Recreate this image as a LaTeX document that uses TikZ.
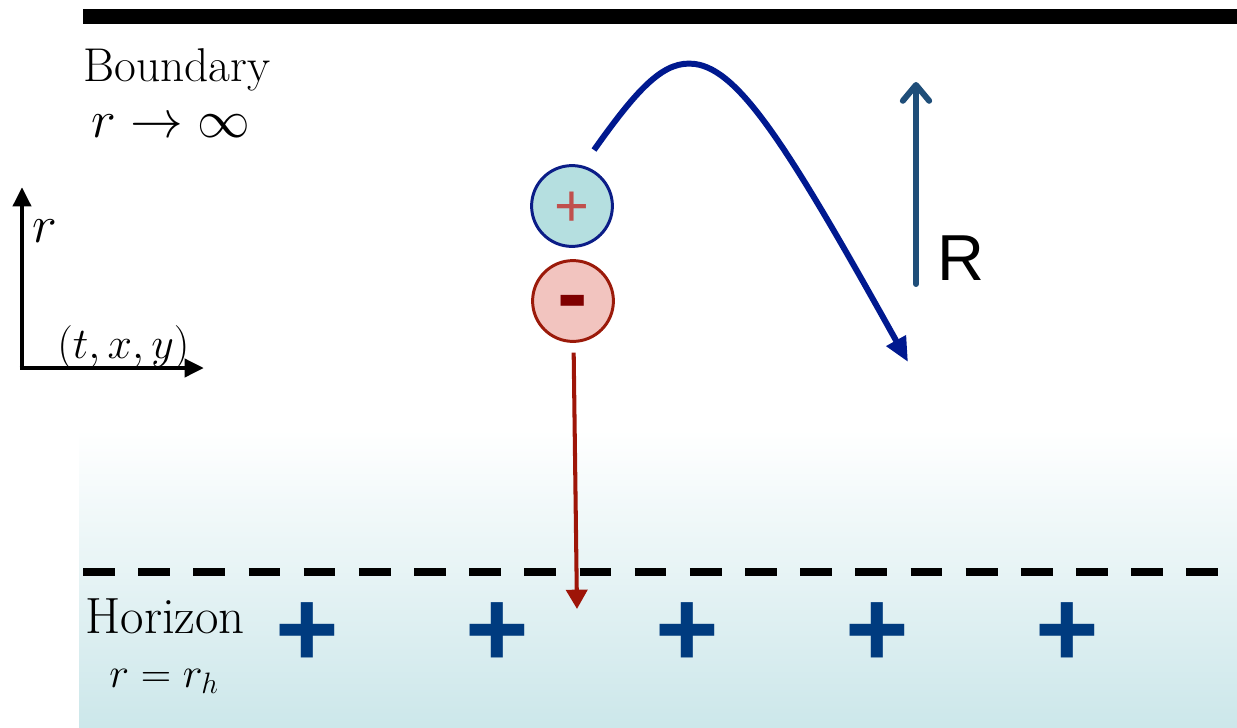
\RequirePackage{fix-cm}
\documentclass[tikz,border=0pt]{standalone}
\usepackage{amsmath}
\usepackage{amssymb}
\usepackage{fontspec}
\setsansfont{Liberation Sans}
\usetikzlibrary{arrows.meta, positioning}

\definecolor{plusfill}{HTML}{B5DFE0}
\definecolor{plusborder}{HTML}{0B1D87}
\definecolor{plussign}{HTML}{C0504D}
\definecolor{minusfill}{HTML}{F2C4BF}
\definecolor{minusborder}{HTML}{9B1A0A}
\definecolor{minussign}{HTML}{7F0000}
\definecolor{fallred}{HTML}{9E1508}
\definecolor{pathblue}{HTML}{00198F}
\definecolor{steelblue}{HTML}{1F4E79}
\definecolor{chargeblue}{HTML}{003B7F}
\definecolor{horizonbg}{HTML}{CCE7EA}

\tikzstyle{bigtext} = [inner sep=0pt, font=\fontsize{27}{33}\selectfont]
\tikzstyle{mathtext} = [inner sep=0pt, font=\fontsize{30}{36}\selectfont]
\tikzstyle{smalltext} = [inner sep=0pt, font=\fontsize{29}{34}\selectfont]
\tikzstyle{particle} = [circle, draw, line width=1.7pt, minimum size=46pt, inner sep=0pt, text depth=0pt]
\tikzstyle{axis} = [line width=2.8pt, -{Triangle[length=11pt, width=10pt]}]
\tikzstyle{fall} = [line width=2.3pt, fallred, -{Triangle[length=11pt, width=12pt]}]
\tikzstyle{escape} = [line width=3.4pt, pathblue, -{Triangle[length=14pt, width=12pt]}]
\tikzstyle{rarrow} = [line width=3.4pt, steelblue, line cap=round, -{Straight Barb[length=9pt, width=15pt, round]}]

\begin{document}
\begin{tikzpicture}[x=0.02cm, y=-0.02cm]
    \useasboundingbox (0,0) rectangle (1237,727);

    % Bulk and boundary
    \shade[top color=white, bottom color=horizonbg] (79,430) rectangle (1237,727);
    \fill (83,9) rectangle (1237,24);

    % Nodes
    \node (boundary) [bigtext, anchor=base west] at (83,81) {Boundary};
    \node (rinf) [mathtext, anchor=base west] at (91,137) {$r\rightarrow\infty$};
    \node (horizon) [smalltext, anchor=base west] at (85,633) {Horizon};
    \node (rh) [smalltext, font=\fontsize{24}{28}\selectfont, anchor=base west] at (109,687) {$r=r_h$};
    \node (pplus) [particle, draw=plusborder, fill=plusfill, text=plussign, text height=23.8pt,
        font=\sffamily\fontsize{34}{34}\selectfont] at (572,206) {+};
    \node (pminus) [particle, draw=minusborder, fill=minusfill, text=minussign, text height=27.2pt,
        font=\sffamily\bfseries\fontsize{52}{52}\selectfont] at (573,301) {-};
    \node (rlabel) [inner sep=0pt, anchor=base west, font=\sffamily\fontsize{37}{37}\selectfont] at (937,280) {R};
    \foreach \x in {307,497,687,877,1067}
        \node (hp\x) [inner sep=0pt, text=chargeblue, font=\sffamily\bfseries\fontsize{62}{62}\selectfont] at (\x,635) {+};

    % Axes
    \coordinate (origin) at (22,368);
    \coordinate (rtop) at (22,187);
    \coordinate (xend) at (204,368);
    \draw [axis] (origin) -- (rtop);
    \draw [axis] ([xshift=-1.4pt]origin) -- (xend);
    \node (rax) [mathtext, anchor=base west] at (32,242) {$r$};
    \node (txy) [bigtext, font=\fontsize{25}{30}\selectfont, anchor=base west] at (57,358) {$(t, x, y)$};

    % Horizon
    \coordinate (hleft) at (83,572);
    \coordinate (hright) at (1237,572);
    \draw [line width=4.5pt, dash pattern=on 18.1pt off 13.3pt] (hleft) -- (hright);

    % Arrows
    \coordinate (infall) at (577,609);
    \draw [fall, shorten <=5.5pt] (pminus) -- (infall);
    \coordinate (emit) at (594,150);
    \coordinate (land) at (908,362);
    \draw [escape] (emit) .. controls (640,85) and (665,60) .. (695,64)
        .. controls (740,70) and (790,150) .. (land);
    \coordinate (rbase) at (916,284);
    \coordinate (rtip) at (916,82);
    \draw [rarrow] (rbase) -- (rtip);

\end{tikzpicture}
\end{document}
